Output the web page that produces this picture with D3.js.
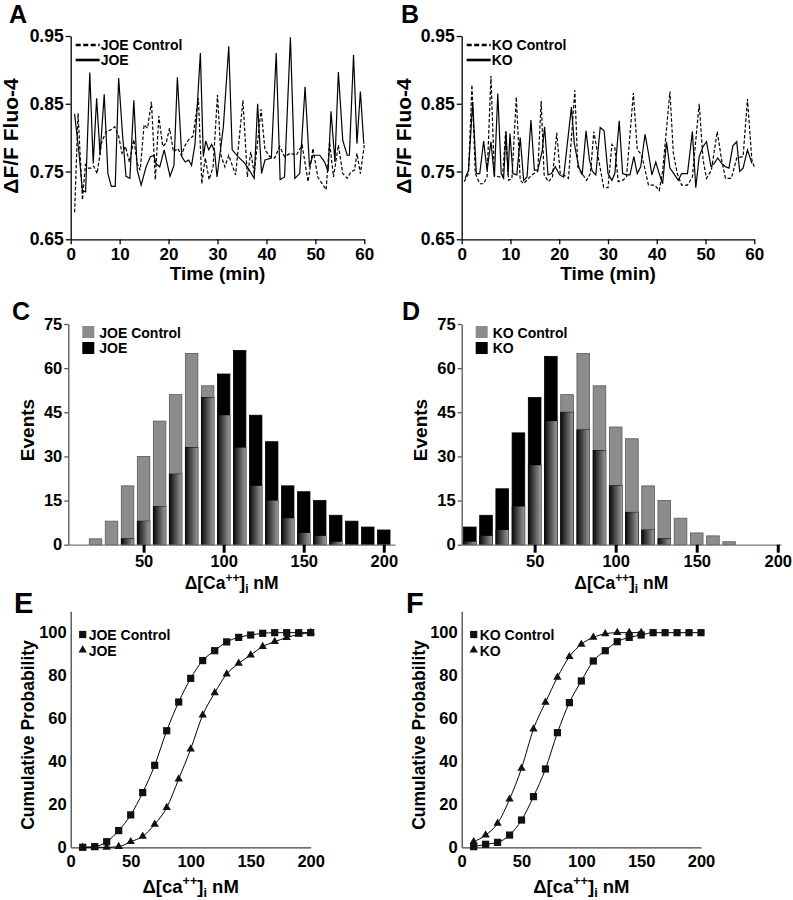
<!DOCTYPE html>
<html><head><meta charset="utf-8">
<script src="https://cdn.jsdelivr.net/npm/d3@7"></script>
<style>
body{margin:0;background:#fff}
svg{display:block}
text{font-family:"Liberation Sans",Arial,Helvetica,sans-serif;font-weight:bold;fill:#000}
</style>
</head><body>
<svg id="chart" width="793" height="900"></svg>
<script>
// ---------- DATA ----------
const timeTicks = [0, 10, 20, 30, 40, 50, 60];
const fluoTicks = [0.65, 0.75, 0.85, 0.95];

// [time (min), dF/F]
const joeControlTrace = [[0.8,0.69],[1.5,0.836],[2.4,0.708],[3.0,0.76],[3.5,0.755],[4.1,0.755],[4.7,0.758],[5.4,0.747],[6.3,0.792],[6.7,0.80],[7.4,0.81],[8.1,0.811],[9.0,0.816],[9.8,0.802],[10.5,0.777],[11.2,0.787],[12.0,0.764],[12.9,0.797],[13.6,0.762],[14.2,0.752],[15.0,0.819],[15.7,0.814],[16.5,0.853],[17.3,0.738],[18.0,0.832],[18.8,0.787],[19.5,0.792],[20.2,0.814],[21.0,0.779],[21.9,0.784],[22.6,0.774],[23.4,0.789],[24.1,0.797],[25.0,0.802],[26.1,0.858],[26.8,0.732],[27.5,0.770],[28.3,0.738],[29.1,0.757],[30.0,0.863],[30.7,0.774],[31.5,0.757],[32.3,0.774],[33.7,0.745],[35.2,0.855],[36.1,0.742],[36.8,0.779],[37.5,0.747],[38.9,0.842],[39.7,0.782],[40.7,0.772],[41.7,0.770],[42.7,0.787],[43.7,0.772],[44.9,0.777],[46.1,0.774],[47.3,0.789],[48.5,0.735],[49.5,0.784],[50.5,0.742],[52.2,0.723],[52.9,0.794],[53.7,0.742],[54.7,0.789],[55.6,0.747],[56.5,0.740],[57.3,0.750],[58.0,0.752],[58.5,0.777],[59.2,0.747],[60.0,0.789]];
const joeTrace = [[0.8,0.835],[1.7,0.777],[2.4,0.722],[3.05,0.72],[3.9,0.896],[4.6,0.762],[5.3,0.858],[6.0,0.775],[6.85,0.864],[7.6,0.747],[8.3,0.728],[9.1,0.728],[9.8,0.888],[10.6,0.804],[11.3,0.743],[12.1,0.740],[12.9,0.855],[13.6,0.752],[14.4,0.730],[15.4,0.757],[16.3,0.772],[17.0,0.774],[17.4,0.762],[18.2,0.757],[19.1,0.782],[20.3,0.743],[21.1,0.759],[21.8,0.889],[22.7,0.772],[23.4,0.764],[24.1,0.767],[24.7,0.759],[25.4,0.79],[26.5,0.925],[27.1,0.772],[27.6,0.795],[28.2,0.782],[28.8,0.790],[29.4,0.78],[29.9,0.742],[31.2,0.816],[32.3,0.935],[33.0,0.782],[34.2,0.772],[35.6,0.762],[36.5,0.752],[37.5,0.740],[38.2,0.85],[39.0,0.747],[39.7,0.767],[41.0,0.770],[42.0,0.925],[42.8,0.738],[43.7,0.742],[44.9,0.948],[45.8,0.740],[46.8,0.747],[47.9,0.875],[48.8,0.757],[49.5,0.774],[50.9,0.774],[51.9,0.764],[52.6,0.750],[53.2,0.839],[54.0,0.764],[54.7,0.897],[55.6,0.796],[56.5,0.774],[56.95,0.774],[57.8,0.922],[58.5,0.791],[59.2,0.868],[59.9,0.791]];
const koControlTrace = [[0.5,0.735],[1.4,0.747],[2.1,0.878],[2.8,0.747],[3.7,0.732],[4.5,0.732],[5.2,0.742],[6.0,0.891],[6.7,0.745],[7.6,0.742],[8.4,0.742],[9.0,0.809],[9.6,0.737],[10.3,0.740],[11.2,0.860],[12.0,0.737],[12.7,0.732],[13.7,0.740],[14.8,0.747],[15.6,0.75],[16.3,0.854],[16.9,0.745],[17.8,0.735],[18.6,0.742],[19.5,0.807],[20.2,0.747],[20.9,0.745],[21.9,0.740],[23.2,0.870],[23.8,0.757],[24.7,0.747],[25.6,0.737],[26.4,0.747],[27.1,0.809],[28.1,0.767],[29.1,0.727],[30.0,0.726],[30.8,0.79],[31.4,0.785],[32.1,0.735],[33.0,0.737],[33.8,0.742],[35.2,0.866],[36.0,0.782],[36.9,0.775],[38.3,0.73],[39.6,0.73],[40.5,0.722],[41.2,0.75],[42.7,0.868],[43.4,0.777],[44.2,0.747],[45.1,0.73],[46.3,0.73],[47.3,0.742],[48.7,0.85],[49.5,0.767],[50.2,0.740],[51.2,0.752],[52.4,0.809],[53.3,0.767],[54.1,0.740],[55.3,0.740],[56.4,0.770],[57.7,0.772],[58.6,0.857],[59.5,0.767],[60.0,0.757]];
const koTrace = [[0.7,0.74],[1.4,0.752],[2.25,0.853],[3.0,0.747],[3.7,0.747],[4.5,0.795],[5.2,0.752],[6.0,0.794],[6.7,0.742],[7.4,0.865],[8.1,0.747],[8.6,0.740],[9.1,0.809],[9.5,0.745],[9.9,0.806],[10.5,0.747],[11.3,0.745],[12.0,0.80],[12.7,0.737],[13.4,0.742],[14.2,0.826],[14.9,0.752],[15.6,0.752],[16.5,0.78],[17.0,0.816],[17.7,0.745],[18.4,0.747],[19.2,0.757],[20.1,0.745],[20.9,0.742],[22.5,0.845],[23.1,0.791],[24.0,0.757],[24.7,0.745],[25.5,0.810],[26.2,0.767],[26.8,0.750],[27.5,0.745],[28.4,0.815],[29.2,0.81],[30.0,0.747],[30.8,0.737],[31.4,0.747],[32.3,0.825],[33.0,0.747],[33.8,0.745],[34.5,0.745],[35.3,0.772],[36.0,0.747],[36.7,0.757],[37.6,0.805],[38.3,0.777],[39.0,0.745],[39.8,0.764],[40.5,0.747],[41.2,0.732],[42.0,0.794],[42.7,0.755],[43.5,0.747],[44.4,0.737],[45.1,0.747],[46.3,0.747],[47.3,0.809],[48.0,0.726],[48.7,0.772],[49.5,0.787],[50.2,0.794],[51.1,0.758],[51.8,0.762],[52.5,0.770],[53.3,0.762],[54.1,0.757],[54.8,0.755],[55.6,0.788],[56.4,0.794],[57.0,0.750],[57.7,0.755],[58.6,0.782],[59.5,0.762]];

// Histograms
const binsC = [20,30,40,50,60,70,80,90,100,110,120,130,140,150,160,170,180,190,200];
const joeControlCounts = [2,8,20,30,42,51,65,54,44,33,20,15,9,4,3,1,0,0,0];
const joeCounts        = [0,0,2,8,13,24,33,50,58,66,44,35,20,18,15,10,8,6,5];
const binsD = [10,20,30,40,50,60,70,80,90,100,110,120,130,140,150,160,170];
const koControlCounts = [1,3,5,13,27,42,51,65,54,40,36,20,15,9,4,3,1];
const koCounts        = [6,10,19,38,50,64,45,39,32,20,11,5,2,0,0,0,0];
const eventTicks = [0,15,30,45,60,75];
const caTicks = [50,100,150,200];

// Cumulative probability
const cumTicksX = [0,50,100,150,200];
const cumTicksY = [0,20,40,60,80,100];
const cumX = [10,20,30,40,50,60,70,80,90,100,110,120,130,140,150,160,170,180,190,200];
const joeControlCum = [0,0.3,2.6,7.8,15.1,25.5,38.2,54.3,67.7,78.7,87,91.6,95.7,97.8,98.9,99.7,100,100,100,100];
const joeCum        = [0,0,0,0.3,2.6,5.1,10.7,18.5,31.8,45.8,61.6,72,80.7,85.7,89.6,93.5,95.8,97.7,99.2,100];
const koControlCum  = [0.3,1.4,2.3,5.7,12.7,23.6,36.5,53.4,67.4,77.5,86.8,91.6,95.8,97.8,98.9,100,100,100,100,100];
const koCumX = [10,20,30,40,50,60,70,80,90,100,110,120,130,140,150];
const koCum  = [2.6,5.7,11.2,22.4,36.8,55.1,67.5,79.2,88.8,94.6,97.8,99.5,100,100,100];

// ---------- DRAWING ----------
const svg = d3.select("#chart");
const defs = svg.append("defs");
const grad = defs.append("linearGradient").attr("id","ovl").attr("x1","0").attr("x2","1").attr("y1","0").attr("y2","0");
grad.append("stop").attr("offset","0").attr("stop-color","#0a0a0a");
grad.append("stop").attr("offset","0.55").attr("stop-color","#5a5a5a");
grad.append("stop").attr("offset","1").attr("stop-color","#9a9a9a");

function panelLetter(x, y, s, size){
  svg.append("text").attr("x",x).attr("y",y).style("font-size",size+"px").text(s);
}
function yTitle(x, y, s, size){
  svg.append("text").attr("transform",`translate(${x},${y}) rotate(-90)`)
    .attr("text-anchor","middle").style("font-size",size+"px").text(s);
}
function caLabel(x, y, word, size){
  const t = svg.append("text").attr("x",x).attr("y",y).attr("text-anchor","middle").style("font-size",size+"px");
  t.append("tspan").text("\u0394[" + word);
  t.append("tspan").attr("dy",-size*0.42).style("font-size",(size*0.68)+"px").text("++");
  t.append("tspan").attr("dy",size*0.42).text("]");
  t.append("tspan").attr("dy",size*0.22).style("font-size",(size*0.68)+"px").text("i");
  t.append("tspan").attr("dy",-size*0.22).text(" nM");
}
function styleAxis(g, fs, color){
  g.selectAll("path.domain").attr("stroke",color||"#000").attr("stroke-width",1.3);
  g.selectAll(".tick line").attr("stroke",color||"#000").attr("stroke-width",1.3);
  g.selectAll(".tick text").style("font-size",fs+"px").style("font-family","'Liberation Sans',Arial,sans-serif").style("font-weight","bold").attr("fill","#000");
}

// ----- Time-series panels -----
function tracePanel(x0, x1, ctrl, treat, ctrlName, treatName){
  const x = d3.scaleLinear().domain([0,60]).range([x0,x1]);
  const y = d3.scaleLinear().domain([0.65,0.95]).range([239.3,36]);
  const gx = svg.append("g").attr("transform","translate(0,239.3)")
    .call(d3.axisBottom(x).tickValues(timeTicks).tickSize(5).tickSizeOuter(0).tickPadding(4));
  styleAxis(gx, 17);
  const gy = svg.append("g").attr("transform",`translate(${x0},0)`)
    .call(d3.axisLeft(y).tickValues(fluoTicks).tickFormat(d3.format(".2f")).tickSize(5).tickSizeOuter(0).tickPadding(2));
  styleAxis(gy, 17.5);
  const line = d3.line().x(d=>x(d[0])).y(d=>y(d[1]));
  svg.append("path").datum(ctrl).attr("d",line).attr("fill","none").attr("stroke","#000")
    .attr("stroke-width",1.2).attr("stroke-dasharray","3.5,2");
  svg.append("path").datum(treat).attr("d",line).attr("fill","none").attr("stroke","#000")
    .attr("stroke-width",1.2);
  // legend
  const lx = x0 + 5;
  svg.append("line").attr("x1",lx).attr("x2",lx+24).attr("y1",45).attr("y2",45)
    .attr("stroke","#000").attr("stroke-width",2.6).attr("stroke-dasharray","5,2.5");
  svg.append("line").attr("x1",lx).attr("x2",lx+24).attr("y1",60).attr("y2",60)
    .attr("stroke","#000").attr("stroke-width",2.6);
  svg.append("text").attr("x",lx+25).attr("y",50).style("font-size","14px").text(ctrlName);
  svg.append("text").attr("x",lx+25).attr("y",65).style("font-size","14px").text(treatName);
  svg.append("text").attr("x",(x0+x1)/2).attr("y",280).attr("text-anchor","middle").style("font-size","19px").text("Time (min)");
}
tracePanel(70.7, 364.3, joeControlTrace, joeTrace, "JOE Control", "JOE");
tracePanel(461.7, 754.3, koControlTrace, koTrace, "KO Control", "KO");
yTitle(18, 136, "\u0394F/F Fluo-4", 21);
yTitle(411, 136, "\u0394F/F Fluo-4", 21);
panelLetter(9, 23, "A", 25);
panelLetter(401, 23, "B", 25);

// ----- Histogram panels -----
function histPanel(x0, x1, dom, bins, ctrl, treat, ctrlName, treatName){
  const x = d3.scaleLinear().domain(dom).range([x0,x1]);
  const y = d3.scaleLinear().domain([0,75]).range([544.7,324]);
  const g = svg.append("g");
  bins.forEach((c,i)=>{
    const bx = x(c-3.9), bw = x(c+3.9)-x(c-3.9);
    const gc = ctrl[i], bc = treat[i], m = Math.min(gc,bc);
    if(gc>0) g.append("rect").attr("x",bx).attr("y",y(gc)).attr("width",bw).attr("height",y(0)-y(gc))
      .attr("fill","#8c8c8c").attr("stroke","#5a5a5a").attr("stroke-width",0.8);
    if(bc>0) g.append("rect").attr("x",bx).attr("y",y(bc)).attr("width",bw).attr("height",y(0)-y(bc))
      .attr("fill","#000").attr("stroke","#000").attr("stroke-width",0.8);
    if(m>0) g.append("rect").attr("x",bx).attr("y",y(m)).attr("width",bw).attr("height",y(0)-y(m))
      .attr("fill","url(#ovl)");
  });
  const gx = svg.append("g").attr("transform","translate(0,544.7)")
    .call(d3.axisBottom(x).tickValues(caTicks).tickSize(8).tickSizeOuter(0).tickPadding(3));
  styleAxis(gx, 16.5, "#777");
  gx.selectAll(".tick line").attr("stroke","#000").attr("stroke-width",3);
  const gy = svg.append("g").attr("transform",`translate(${x0},0)`)
    .call(d3.axisLeft(y).tickValues(eventTicks).tickSize(4).tickSizeOuter(0).tickPadding(2));
  styleAxis(gy, 16.5, "#555");
  // legend
  const lx = x0 + 14;
  svg.append("rect").attr("x",lx).attr("y",326).attr("width",12).attr("height",12).attr("fill","#8c8c8c");
  svg.append("rect").attr("x",lx).attr("y",342).attr("width",12).attr("height",12).attr("fill","#000");
  svg.append("text").attr("x",lx+17).attr("y",337.5).style("font-size","14px").text(ctrlName);
  svg.append("text").attr("x",lx+17).attr("y",353).style("font-size","14px").text(treatName);
  caLabel((x0+x1)/2, 589, "Ca", 17.5);
}
histPanel(68.3, 395, [3,207], binsC, joeControlCounts, joeCounts, "JOE Control", "JOE");
histPanel(461.7, 781, [5,202], binsD, koControlCounts, koCounts, "KO Control", "KO");
yTitle(34, 430, "Events", 19);
yTitle(427, 430, "Events", 19);
panelLetter(12, 320, "C", 25);
panelLetter(402, 320, "D", 25);

// ----- Cumulative panels -----
const sq = d3.symbol().type(d3.symbolSquare).size(52);
const tri = d3.symbol().type(d3.symbolTriangle).size(30);
function cumPanel(x0, x1, ctrlX, ctrl, treatX, treat, ctrlName, treatName){
  const x = d3.scaleLinear().domain([0,200]).range([x0,x1]);
  const y = d3.scaleLinear().domain([0,110]).range([847.3,611.2]);
  const gx = svg.append("g").attr("transform","translate(0,847.3)")
    .call(d3.axisBottom(x).tickValues(cumTicksX).tickSize(0).tickSizeOuter(0).tickPadding(8));
  styleAxis(gx, 16.5, "#444");
  const gy = svg.append("g").attr("transform",`translate(${x0},0)`)
    .call(d3.axisLeft(y).tickValues(cumTicksY).tickSize(0).tickSizeOuter(0).tickPadding(4));
  styleAxis(gy, 16.5, "#444");
  const line = d3.line().curve(d3.curveMonotoneX).x(d=>x(d[0])).y(d=>y(d[1]));
  const cd = ctrlX.map((v,i)=>[v,ctrl[i]]);
  const td = treatX.map((v,i)=>[v,treat[i]]);
  svg.append("path").datum(cd).attr("d",line).attr("fill","none").attr("stroke","#000").attr("stroke-width",1);
  svg.append("path").datum(td).attr("d",line).attr("fill","none").attr("stroke","#000").attr("stroke-width",1);
  svg.append("g").selectAll("path").data(td).join("path")
    .attr("transform",d=>`translate(${x(d[0])},${y(d[1])})`).attr("d",tri).attr("fill","#111");
  svg.append("g").selectAll("path").data(cd).join("path")
    .attr("transform",d=>`translate(${x(d[0])},${y(d[1])})`).attr("d",sq).attr("fill","#111");
  // legend
  const lx = x0 + 12;
  svg.append("path").attr("transform",`translate(${lx},634.5)`).attr("d",sq).attr("fill","#111");
  svg.append("path").attr("transform",`translate(${lx},650)`).attr("d",tri).attr("fill","#111");
  svg.append("text").attr("x",lx+6).attr("y",640).style("font-size","14px").text(ctrlName);
  svg.append("text").attr("x",lx+6).attr("y",656).style("font-size","14px").text(treatName);
  caLabel((x0+x1)/2, 893, "ca", 18.5);
}
cumPanel(70.7, 310.7, cumX, joeControlCum, cumX, joeCum, "JOE Control", "JOE");
cumPanel(461.7, 701, cumX, koControlCum, koCumX, koCum, "KO Control", "KO");
yTitle(34, 735, "Cumulative Probability", 17.5);
yTitle(425, 735, "Cumulative Probability", 17.5);
panelLetter(14, 613, "E", 29);
panelLetter(406, 613, "F", 29);
</script>
</body></html>
